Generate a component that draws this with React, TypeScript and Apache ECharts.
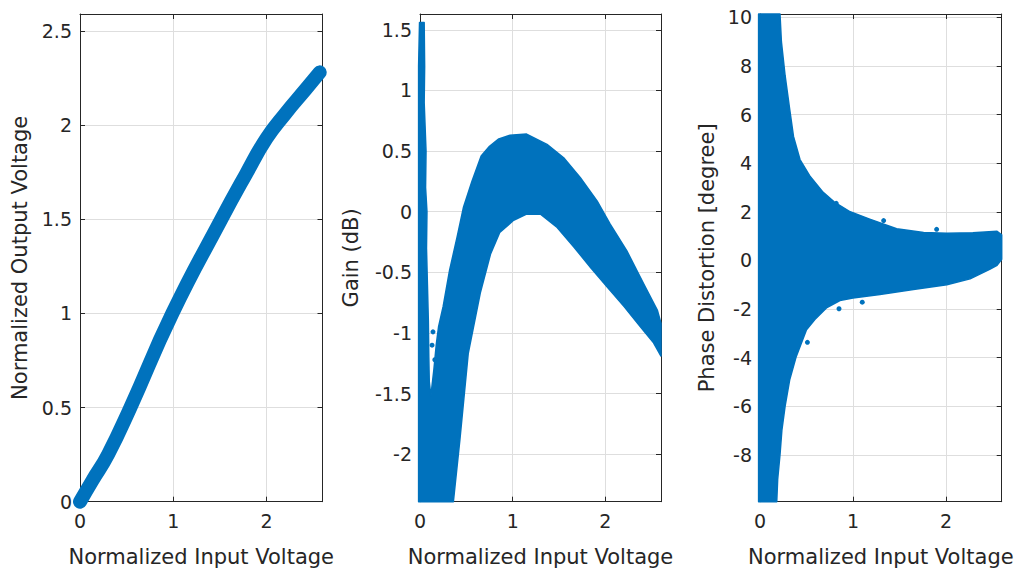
import React, { useEffect, useRef } from "react";
import * as echarts from "echarts";

// ---------- data ----------
// Panel 1: AM/AM, centre line of the dense point band
const amamInput = [0, 0.13, 0.3, 0.54, 0.99, 1.515, 1.78, 2.0, 2.2, 2.42, 2.57];
const amamOutput = [0, 0.11, 0.25, 0.5, 1.0, 1.5, 1.74, 1.93, 2.06, 2.19, 2.28];

// Panel 2: outline of the gain point cloud (x = input voltage, y = gain dB)
const gainCloudOutline: [number, number][] = [
  [-0.015, -2.39], [-0.015, 1.2], [-0.005, 1.56], [0.045, 1.56], [0.05, 1.2],
  [0.045, 0.9], [0.065, 0.5], [0.06, 0.2], [0.075, 0.0], [0.07, -0.3],
  [0.08, -0.6], [0.09, -0.9], [0.095, -1.2], [0.1, -1.4], [0.117, -1.52],
  [0.15, -1.3], [0.175, -1.1], [0.2, -0.95], [0.25, -0.78], [0.32, -0.48],
  [0.4, -0.21], [0.47, 0.04], [0.56, 0.25], [0.66, 0.46], [0.75, 0.54],
  [0.85, 0.6], [0.97, 0.63], [1.15, 0.64], [1.37, 0.555], [1.55, 0.445],
  [1.73, 0.28], [1.91, 0.09], [2.05, -0.1], [2.23, -0.32], [2.41, -0.59],
  [2.56, -0.81], [2.6, -0.92], [2.6, -1.19], [2.52, -1.08], [2.38, -0.95],
  [2.2, -0.78], [2.02, -0.62], [1.84, -0.46], [1.66, -0.29], [1.48, -0.13],
  [1.3, -0.02], [1.15, -0.02], [1.01, -0.07], [0.86, -0.17], [0.76, -0.35],
  [0.65, -0.67], [0.52, -1.17], [0.43, -1.88], [0.36, -2.39],
];
const gainOutliers: [number, number][] = [
  [0.14, -0.99], [0.16, -1.22], [0.13, -1.1],
];

// Panel 3: outline of the phase-distortion point cloud
const phaseCloudOutline: [number, number][] = [
  [-0.015, -9.93], [-0.015, 10.14], [0.215, 10.14], [0.23, 9.0], [0.27, 7.6],
  [0.32, 6.2], [0.36, 5.1], [0.43, 4.15], [0.54, 3.45], [0.68, 2.8],
  [0.8, 2.4], [0.97, 2.0], [1.18, 1.7], [1.47, 1.3], [1.76, 1.15],
  [2.01, 1.12], [2.29, 1.14], [2.55, 1.2], [2.6, 1.05], [2.6, 0.05],
  [2.55, -0.2], [2.47, -0.37], [2.26, -0.76], [2.01, -1.0], [1.65, -1.2],
  [1.29, -1.4], [1.0, -1.55], [0.86, -1.65], [0.72, -1.94], [0.59, -2.43],
  [0.5, -2.85], [0.39, -3.95], [0.32, -4.9], [0.27, -6.0], [0.235, -7.0],
  [0.215, -8.0], [0.19, -9.0], [0.18, -9.93],
];
const phaseOutliers: [number, number][] = [
  [1.1, -1.72], [0.51, -3.37], [0.85, -1.99], [1.9, 1.28], [0.82, 2.35], [1.33, 1.64],
];

// axis extents
const xRange = [0, 2.6];
const yRanges = [
  [0, 2.59],
  [-2.39, 1.63],
  [-9.93, 10.14],
];
const ySplits = [5, 8, 10];
const yNames = ["Normalized Output Voltage", "Gain (dB)", "Phase Distortion [degree]"];
const xName = "Normalized Input Voltage";

// ---------- styling ----------
const BLUE = "#0072BD";
const AX = "#262626";
const GRID = "#dedede";
const FONT = "DejaVu Sans";

const grids = [
  { left: 80, top: 14, width: 242.5, height: 487.7 },
  { left: 420, top: 14, width: 241, height: 487.7 },
  { left: 760, top: 14, width: 241.7, height: 487.7 },
];
const yNameGaps = [50, 59, 43];

function polygonSeries(outline: [number, number][], idx: number) {
  return {
    type: "custom",
    xAxisIndex: idx * 2,
    yAxisIndex: idx * 2,
    clip: false,
    data: outline,
    renderItem: (params: any, api: any) => {
      if (params.dataIndex !== 0) return null;
      const pts = outline.map((p) => api.coord(p));
      return {
        type: "polygon",
        shape: { points: pts },
        style: { fill: BLUE, stroke: BLUE, lineWidth: 1.5, lineJoin: "round" },
      };
    },
    z: 3,
  };
}

function outlierSeries(pts: [number, number][], idx: number) {
  return {
    type: "scatter",
    xAxisIndex: idx * 2,
    yAxisIndex: idx * 2,
    data: pts,
    symbolSize: 5,
    itemStyle: { color: BLUE, opacity: 1 },
    z: 4,
  };
}

export default function App() {
  const ref = useRef<HTMLDivElement>(null);
  useEffect(() => {
    if (!ref.current) return;
    const chart = echarts.init(ref.current, undefined, { renderer: "svg" });

    const xAxes: any[] = [];
    const yAxes: any[] = [];
    grids.forEach((_, i) => {
      xAxes.push({
        type: "value",
        gridIndex: i,
        position: "bottom",
        min: xRange[0],
        max: xRange[1],
        splitNumber: 3,
        axisLine: { show: true, onZero: false, lineStyle: { color: AX, width: 1 } },
        axisTick: { show: true, inside: true, length: 5, lineStyle: { color: AX } },
        axisLabel: {
          color: AX,
          fontSize: 19,
          fontFamily: FONT,
          margin: 10,
          showMinLabel: true,
          showMaxLabel: false,
        },
        splitLine: { show: true, lineStyle: { color: GRID, width: 1 } },
        name: xName,
        nameLocation: "middle",
        nameGap: 45,
        nameTextStyle: { color: AX, fontSize: 21, fontFamily: FONT },
      });
      xAxes.push({
        type: "value",
        gridIndex: i,
        position: "top",
        min: xRange[0],
        max: xRange[1],
        splitNumber: 3,
        axisLine: { show: true, onZero: false, lineStyle: { color: AX, width: 1 } },
        axisTick: { show: true, inside: true, length: 5, lineStyle: { color: AX } },
        axisLabel: { show: false },
        splitLine: { show: false },
      });
      yAxes.push({
        type: "value",
        gridIndex: i,
        position: "left",
        min: yRanges[i][0],
        max: yRanges[i][1],
        splitNumber: ySplits[i],
        axisLine: { show: true, onZero: false, lineStyle: { color: AX, width: 1 } },
        axisTick: { show: true, inside: true, length: 5, lineStyle: { color: AX } },
        axisLabel: {
          color: AX,
          fontSize: 19,
          fontFamily: FONT,
          margin: 8,
          showMinLabel: i === 0,
          showMaxLabel: false,
        },
        splitLine: { show: true, lineStyle: { color: GRID, width: 1 } },
        name: yNames[i],
        nameLocation: "middle",
        nameGap: yNameGaps[i],
        nameRotate: 90,
        nameTextStyle: { color: AX, fontSize: 21, fontFamily: FONT },
      });
      yAxes.push({
        type: "value",
        gridIndex: i,
        position: "right",
        min: yRanges[i][0],
        max: yRanges[i][1],
        splitNumber: ySplits[i],
        axisLine: { show: true, onZero: false, lineStyle: { color: AX, width: 1 } },
        axisTick: { show: true, inside: true, length: 5, lineStyle: { color: AX } },
        axisLabel: { show: false },
        splitLine: { show: false },
      });
    });

    const option: any = {
      animation: false,
      backgroundColor: "#ffffff",
      grid: grids,
      xAxis: xAxes,
      yAxis: yAxes,
      series: [
        {
          type: "line",
          xAxisIndex: 0,
          yAxisIndex: 0,
          data: amamInput.map((x, k) => [x, amamOutput[k]]),
          smooth: 0.5,
          showSymbol: false,
          symbol: "none",
          clip: false,
          lineStyle: { color: BLUE, width: 14, cap: "round", join: "round" },
          z: 3,
        },
        polygonSeries(gainCloudOutline, 1),
        outlierSeries(gainOutliers, 1),
        polygonSeries(phaseCloudOutline, 2),
        outlierSeries(phaseOutliers, 2),
      ],
    };
    chart.setOption(option);
    return () => chart.dispose();
  }, []);

  return (
    <div
      ref={ref}
      style={{ position: "absolute", left: 0, top: 0, width: 1020, height: 573, background: "#fff" }}
    />
  );
}
